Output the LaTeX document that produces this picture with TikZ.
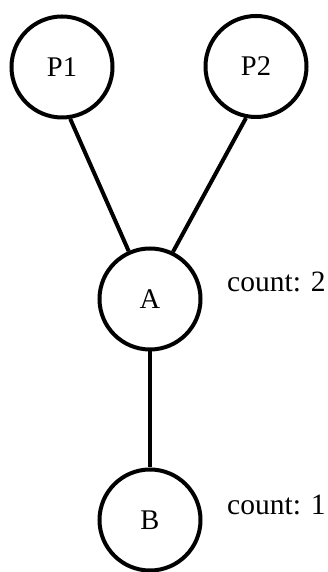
\documentclass[tikz,border=0pt]{standalone}
\usepackage{fontspec}
\setmainfont{Liberation Serif}
\begin{document}
\begin{tikzpicture}[x=1pt,y=1pt,
  vert/.style={draw=black,circle,line width=4pt,minimum size=101pt,inner sep=0pt,font=\fontsize{28.5}{32}\selectfont},
  edge/.style={draw=black,line width=4pt},
  countlbl/.style={anchor=base west,inner sep=0pt,font=\fontsize{29.5}{33}\selectfont}]
\useasboundingbox (0,0) rectangle (328,572);
\node[vert] (P1) at (62,505) {P1};
\node[vert] (P2) at (256,505.5) {P2};
\node[vert] (A) at (150,273) {A};
\node[vert] (B) at (150,52) {B};
\draw[edge] (P1.-81) -- (A.114);
\draw[edge] (P2.-101) -- (A.64);
\draw[edge] (A.south) -- (B.north);
\node[countlbl] (cA) at (227,280.5) {count: 2};
\node[countlbl] (cB) at (227,57) {count: 1};
\end{tikzpicture}
\end{document}
